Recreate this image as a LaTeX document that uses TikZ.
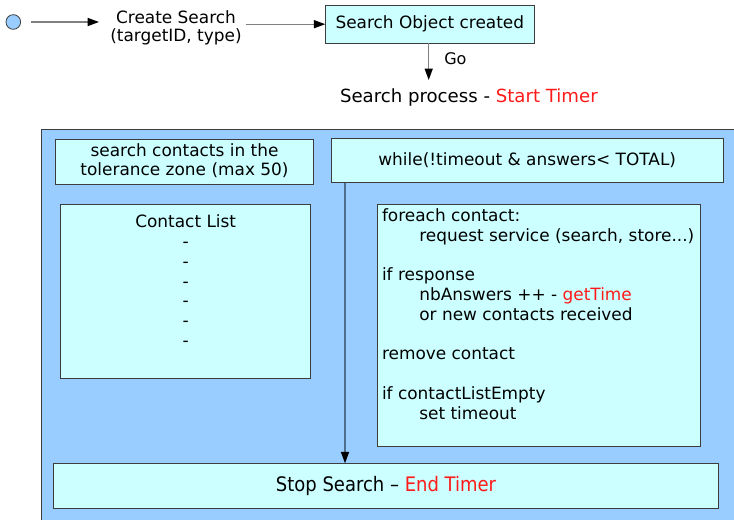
\documentclass[tikz,border=0pt]{standalone}
\usepackage{fontspec}
\setmainfont{DejaVu Sans}
\newfontfamily\condfont{DejaVu Sans Condensed}
\usetikzlibrary{arrows.meta}
\definecolor{boxfill}{HTML}{CCFFFF}
\definecolor{panelfill}{HTML}{99CCFF}
\definecolor{edge}{HTML}{3C3C3C}
\definecolor{flowline}{HTML}{808080}
\definecolor{exitcol}{HTML}{4F6E8E}
\definecolor{timer}{HTML}{FF1A1A}

\begin{document}
\begin{tikzpicture}[x=0.75pt,y=-0.75pt,
  every node/.style={inner sep=0pt, outer sep=0pt},
  txt/.style={font=\fontsize{12.7}{14.8}\selectfont},
  box/.style={draw=edge, fill=boxfill, line width=0.8pt},
  tip/.style={-{Triangle[length=8.5pt,width=6pt,color=black]}},
  flow/.style={draw=flowline, line width=1pt, tip},
  exitline/.style={draw=exitcol, line width=1pt, tip}]

  % page frame
  \clip (0,0) rectangle (734,520);

  % ---- top row: start, create, object ----
  \node (start) [circle, draw=edge, fill=panelfill, line width=0.6pt,
        minimum size=11pt] at (13.3,22) {};
  \node (create) [font=\fontsize{12.7}{13.6}\selectfont, align=center, anchor=north]
        at (176,11) {Create Search\\(targetID, type)};
  \node (obj) [box, minimum width=156.75pt, minimum height=28.7pt, txt]
        at (429.8,24.2) {Search Object created};

  \draw[flow, shorten <=8pt, shorten >=8.5pt] (start.east) -- (start -| create.west);
  \draw[flow, shorten <=3pt] (create.east |- obj.west) -- (obj.west);

  % ---- go to the search process ----
  \coordinate (goend) at (428.7,80);
  \draw[flow] (obj.south -| goend) -- (goend);
  \node (go) [anchor=base west, font=\fontsize{12}{14}\selectfont] at (444.3,65) {Go};
  \node (proc) [anchor=base west, font=\fontsize{13.6}{16}\selectfont] at (340,103)
        {Search process - {\color{timer}Start Timer}};

  % ---- search process panel ----
  \path[fill=panelfill, draw=edge, line width=1pt] (41.7,129.3) rectangle (760,540);

  \node (zone) [box, minimum width=193.2pt, minimum height=33.75pt] at (184.5,161.8) {};
  \node (zonetxt) [font=\fontsize{12.7}{14.25}\selectfont, align=center, anchor=north]
        at (184.5,144.1) {search contacts in the\\tolerance zone (max 50)};

  \node (while) [box, minimum width=293.8pt, minimum height=33.3pt, txt]
        at (527.2,160.5) {while(!timeout \& answers< TOTAL)};

  \node (list) [box, minimum width=187.5pt, minimum height=130.5pt] at (185.7,291.3) {};
  \node (listtxt) [txt, align=center, anchor=north] at (185.7,215.1)
        {Contact List\\-\\-\\-\\-\\-\\-};

  \node (body) [box, minimum width=242.25pt, minimum height=181.8pt] at (539.2,325.5) {};
  \node (bodytxt) [txt, align=left, anchor=north west] at (382,208.8)
        {foreach contact:\\
         \hspace*{28pt}request service (search, store...)\\[14.8pt]
         if response\\
         \hspace*{28pt}nbAnswers ++ - {\color{timer}getTime}\\
         \hspace*{28pt}or new contacts received\\[14.8pt]
         remove contact\\[14.8pt]
         if contactListEmpty\\
         \hspace*{28pt}set timeout};

  \node (halt) [box, minimum width=498.75pt, minimum height=33.75pt] at (386.3,485.8) {};
  \node (halttxt) [anchor=base, font=\condfont\fontsize{15}{18}\selectfont] at (386,491.7)
        {Stop Search – {\color{timer}End Timer}};

  % loop exit
  \coordinate (loopx) at (345,0);
  \draw[exitline] (while.south -| loopx) -- (halt.north -| loopx);
\end{tikzpicture}
\end{document}
